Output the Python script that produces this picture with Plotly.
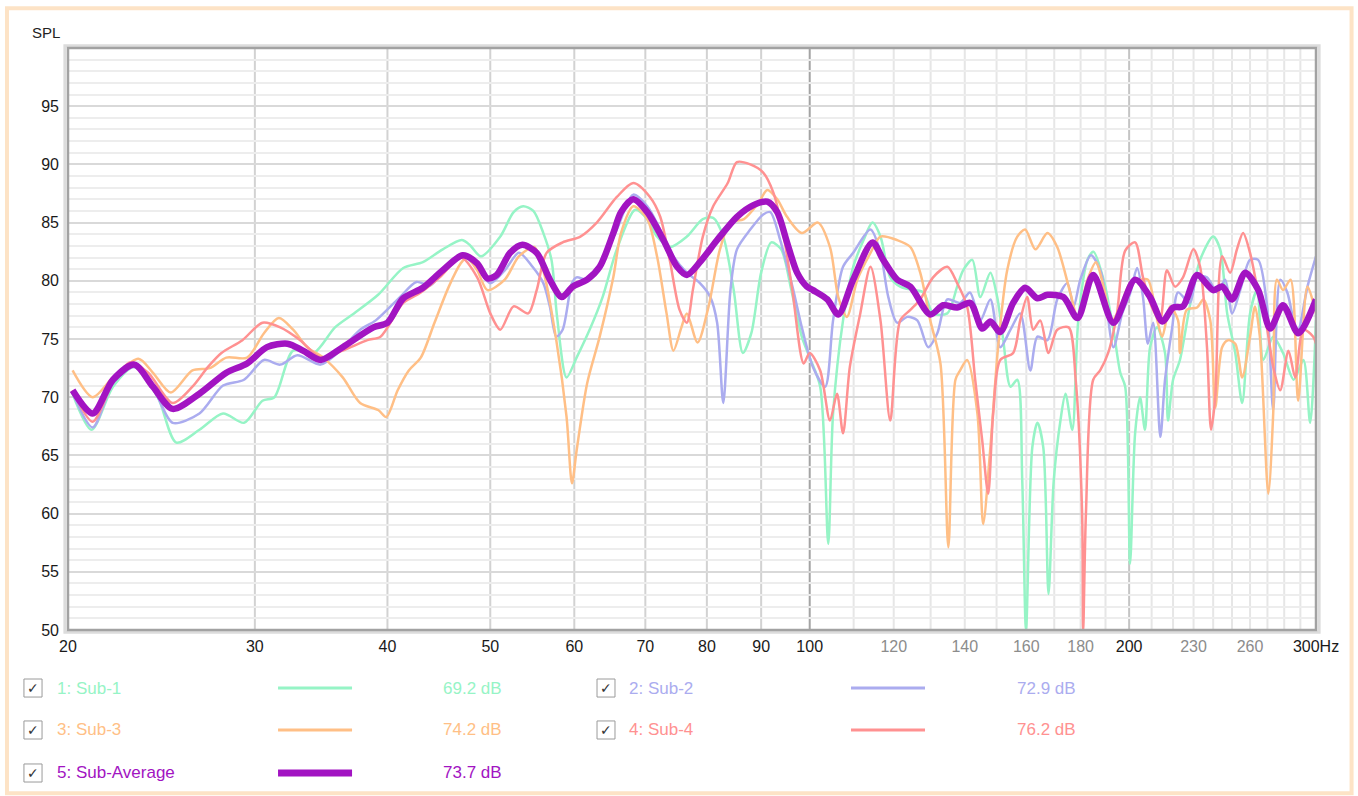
import plotly.graph_objects as go

# ---------------- data ----------------
freq_sub1 = [20.2,21.05,22.05,23.1,24.3,25.3,26.6,28.0,29.3,30.5,31.3,32.6,34.1,35.7,37.2,39.2,
             41.4,43.2,45.1,47.0,47.8,49.0,51.1,52.6,53.7,54.9,56.1,57.1,57.8,59.0,60.3,62.1,63.8,65.8,
             68.5,70.3,71.8,73.8,76.6,79.3,81.1,82.9,84.8,86.5,88.1,90.0,92.0,94.0,96.1,98.3,
             100.0,102.3,104.1,105.2,107.5,109.9,112.4,114.6,116.6,119.1,121.7,125.3,128.0,130.7,134.8,137.7,139.5,142.3,144.8,148.0,150.2,152.2,154.6,156.9,158.6,159.9,162.1,163.9,166.0,167.9,169.8,172.3,
             174.2,176.8,179.1,182.7,185.1,189.2,193.3,196.2,198.3,200.4,202.6,204.8,207.0,209.3,212.5,216.2,217.6,220.0,223.3,228.1,233.3,240.0,243.7,247.4,251.8,255.6,260.0,264.0,267.6,273.4,279.3,285.8,291.9,296.2,300.0]
spl_sub1 = [70.3,67.2,70.9,72.6,70.0,66.1,67.2,68.6,67.8,69.7,70.0,74.0,73.8,76.0,77.2,78.8,
            81.1,81.6,82.7,83.5,83.1,82.1,83.8,85.9,86.4,86.0,84.1,81.8,76.9,71.7,73.4,75.9,78.6,82.7,
            86.1,85.3,83.8,82.9,83.8,85.3,85.4,83.8,79.2,73.8,75.5,80.7,83.3,82.7,79.2,75.2,
            73.4,70.9,57.4,68.6,76.6,81.2,83.5,85.0,83.8,80.3,79.5,79.2,79.0,77.2,77.2,79.5,80.9,81.8,78.6,80.7,78.6,74.9,70.9,71.5,62.8,50.0,65.7,67.8,65.7,53.1,62.8,68.0,
            70.3,67.2,76.6,81.8,82.5,80.1,75.8,72.1,70.9,55.7,66.9,70.0,67.2,74.3,76.0,73.8,68.0,71.5,73.2,77.8,81.8,83.8,82.7,77.2,73.8,69.5,77.2,79.2,73.2,75.2,73.8,71.5,73.2,67.8,76.6]

freq_sub2 = [20.2,21.1,22.05,23.1,24.2,25.1,26.6,28.0,29.3,30.6,31.7,32.9,34.6,35.9,37.7,39.0,
             41.1,42.6,43.9,45.5,47.1,48.6,50.0,51.6,53.2,54.8,56.1,56.9,57.7,58.5,59.7,60.3,61.7,63.4,65.8,
             68.2,70.3,72.3,74.4,76.6,78.8,80.6,81.8,82.9,84.2,85.4,87.9,90.4,91.8,93.8,96.5,98.3,
             100.7,103.4,105.2,107.5,109.9,114.1,116.6,118.6,120.9,123.6,126.3,129.3,131.9,134.8,138.6,141.6,144.8,148.0,151.2,154.6,157.9,161.4,163.9,167.5,171.1,
             174.9,177.3,179.9,184.1,188.2,193.3,197.0,200.4,203.5,206.1,208.3,210.7,214.0,216.2,219.6,222.4,228.1,231.8,236.8,242.1,246.3,250.1,254.5,260.0,264.6,269.8,273.4,277.6,281.9,288.0,294.5,300.0]
spl_sub2 = [70.4,67.4,71.2,72.6,70.3,67.8,68.6,71.0,71.5,73.2,72.8,73.6,72.8,73.8,75.8,76.6,
            78.6,79.9,79.6,81.2,82.1,81.1,79.8,80.9,82.4,81.2,79.8,77.8,75.2,75.8,79.8,80.3,80.1,81.2,84.4,
            87.4,86.4,84.4,82.1,80.7,79.8,78.6,76.4,69.5,79.2,82.7,84.4,85.7,85.9,83.5,79.2,76.0,
            72.6,70.9,76.6,81.2,82.4,84.4,82.4,78.6,76.4,76.9,76.6,74.3,75.5,78.4,78.1,79.0,76.6,78.4,74.3,75.8,77.2,72.3,75.2,74.9,78.4,
            79.8,77.8,80.1,82.2,80.7,74.3,77.2,78.9,81.1,78.6,74.6,76.4,66.6,71.5,76.0,79.0,78.1,80.3,80.3,79.0,80.1,77.2,79.2,81.8,81.8,77.8,68.9,80.1,79.0,75.5,79.5,82.1]

freq_sub3 = [20.2,21.1,22.05,23.3,24.05,25.0,26.2,27.2,28.2,29.5,30.6,31.6,32.6,33.6,34.8,36.3,37.7,39.2,
             39.9,40.9,41.9,43.0,44.3,45.7,46.9,47.5,48.6,49.7,51.6,53.2,55.0,56.1,57.7,59.0,59.7,60.3,61.7,63.4,65.3,
             66.4,68.2,70.3,71.8,73.3,74.4,75.7,76.6,78.4,80.3,82.3,84.2,86.7,89.5,91.2,93.2,95.2,98.3,
             101.8,104.5,106.4,108.4,110.9,114.1,116.6,120.9,124.4,127.1,129.9,132.8,135.1,137.2,138.6,140.7,143.9,145.7,148.0,150.5,153.5,156.9,159.6,163.2,167.5,171.1,
             176.1,178.8,182.7,186.1,189.2,192.8,196.2,200.4,204.8,208.3,212.6,214.9,218.6,222.4,223.3,226.6,231.8,234.9,238.5,241.1,244.7,247.9,251.8,255.6,260.0,262.8,265.6,270.5,273.4,275.6,279.3,283.9,288.6,294.5,300.0]
spl_sub3 = [72.3,70.0,71.7,73.3,72.1,70.4,72.3,72.5,73.4,73.4,75.5,76.8,75.8,74.3,73.4,71.7,69.5,68.9,
            68.3,70.6,72.3,73.4,76.4,79.5,81.5,82.0,80.9,79.2,80.1,82.1,82.9,80.9,74.9,68.3,62.6,65.4,71.2,75.2,80.3,
            84.1,86.4,85.3,82.1,77.2,74.0,76.0,77.2,74.7,77.8,82.7,85.0,85.3,86.7,87.8,87.0,85.5,84.1,
            85.0,82.9,78.6,76.9,80.1,82.4,83.8,83.5,82.9,80.7,76.6,72.9,57.1,71.5,72.3,73.2,68.6,59.1,65.7,74.3,80.9,83.8,84.4,82.7,84.1,82.9,
            78.9,76.9,80.1,81.6,79.5,76.6,77.8,79.8,80.1,80.1,76.6,75.2,77.8,76.6,73.8,77.5,77.7,78.4,76.6,69.1,74.3,74.9,74.6,71.7,75.2,77.8,75.2,61.7,68.6,80.1,79.2,80.1,69.7,79.5,77.2]

freq_sub4 = [20.2,21.1,22.05,22.9,23.8,25.1,26.2,27.1,27.9,29.2,30.5,31.7,33.1,34.6,36.3,38.3,39.4,
             41.4,43.0,44.8,46.9,48.6,50.0,51.1,52.6,54.3,55.3,56.5,58.5,60.8,63.0,65.8,
             68.2,70.7,72.3,73.8,75.4,76.6,77.6,79.3,81.1,83.7,85.4,87.9,90.4,92.4,94.4,96.3,98.7,100.0,102.3,
             104.5,106.1,107.5,109.1,111.6,114.1,116.6,119.1,121.7,124.4,127.1,130.7,134.8,137.7,140.7,143.2,145.4,147.3,148.9,151.2,155.5,157.9,160.3,162.4,164.9,167.9,
             171.1,175.4,178.1,180.6,181.0,182.1,185.0,187.8,191.1,194.8,198.3,202.6,206.1,210.0,213.8,217.1,220.9,224.8,229.9,233.3,236.8,238.9,241.1,244.7,249.0,252.7,256.1,260.0,264.0,269.9,273.4,277.6,282.6,286.8,291.9,298.2,300.0]
spl_sub4 = [70.6,67.9,71.3,73.0,72.1,69.5,70.9,72.6,73.8,74.9,76.4,76.0,74.9,73.4,74.0,74.9,75.2,
            78.1,79.0,80.3,82.0,80.3,77.2,75.8,77.8,77.2,79.2,82.4,83.3,83.8,85.0,87.2,
            88.4,87.2,85.5,81.8,77.5,76.4,79.2,83.8,86.4,88.4,90.2,90.0,89.3,87.6,84.1,79.2,72.9,73.8,72.3,
            68.0,70.3,66.9,72.6,77.2,81.2,76.6,68.0,76.6,77.5,78.4,80.3,81.2,79.8,77.8,71.5,66.3,61.7,68.6,73.2,73.8,76.6,78.6,75.8,76.6,73.8,
            75.8,76.0,71.5,60.0,49.8,60.0,71.5,72.3,73.8,77.2,82.6,83.3,80.3,77.8,76.6,80.9,79.5,80.3,82.7,81.2,74.3,67.2,70.0,82.1,80.7,82.7,84.1,82.4,79.5,75.8,72.6,70.6,74.0,71.7,75.8,75.2,74.6]

freq_avg = [20.2,21.1,22.05,23.1,24.05,25.1,26.6,28.2,29.5,30.8,32.2,33.3,34.6,36.3,38.8,
            40.0,41.4,43.2,45.1,47.1,48.6,49.7,50.7,52.2,53.6,55.3,56.9,58.4,59.8,61.7,63.4,65.3,66.4,68.2,
            70.3,72.8,75.0,76.6,78.8,81.8,85.4,88.5,91.2,93.2,95.2,97.3,99.4,
            100.7,103.9,106.4,109.9,114.6,117.3,120.9,124.4,129.9,133.6,137.7,141.7,145.4,148.0,151.2,155.5,159.6,163.9,167.5,
            173.4,178.8,185.0,193.3,202.6,209.3,215.0,220.0,224.8,231.8,240.0,244.8,250.1,257.3,264.7,271.6,279.3,288.7,300.0]
spl_avg = [70.6,68.6,71.5,72.8,70.9,69.0,70.3,72.1,72.9,74.3,74.6,74.0,73.2,74.3,76.0,
           76.4,78.5,79.4,80.9,82.2,81.5,80.2,80.5,82.4,83.1,82.4,80.1,78.6,79.5,80.1,81.2,84.1,85.9,87.0,
           85.9,83.5,81.2,80.5,81.6,83.5,85.5,86.5,86.8,85.9,83.3,80.7,79.5,
           79.2,78.4,77.1,80.1,83.3,81.8,80.1,79.5,77.1,77.9,77.7,78.1,75.9,76.5,75.6,78.1,79.4,78.5,78.8,
           78.6,76.8,80.5,76.4,80.1,78.6,76.5,77.7,77.8,80.5,79.2,79.5,78.4,80.7,79.2,75.9,77.9,75.5,78.4]

series_names = ["1: Sub-1", "2: Sub-2", "3: Sub-3", "4: Sub-4", "5: Sub-Average"]
series_levels = [69.2, 72.9, 74.2, 76.2, 73.7]
series_colors = ["#96f4c6", "#abacef", "#ffbf86", "#ff9191", "#a214c2"]
series_widths = [2.5, 2.5, 2.5, 2.5, 6.5]

x_tick_vals = [20, 30, 40, 50, 60, 70, 80, 90, 100, 120, 140, 160, 180, 200, 230, 260, 300]
x_tick_dim = [120, 140, 160, 180, 230, 260]
y_tick_vals = [50, 55, 60, 65, 70, 75, 80, 85, 90, 95]
grid_main = [30, 40, 50, 60, 70, 80, 90]
grid_dark = [100]
grid_mid = [200]
grid_light = [110, 120, 130, 140, 150, 160, 170, 180, 190, 210, 220, 230, 240, 250, 260, 270, 280, 290]

FONT = "Liberation Sans, Arial, sans-serif"

freqs = [freq_sub1, freq_sub2, freq_sub3, freq_sub4, freq_avg]
spls = [spl_sub1, spl_sub2, spl_sub3, spl_sub4, spl_avg]

fig = go.Figure()
for f, s, name, col, w in zip(freqs, spls, series_names, series_colors, series_widths):
    fig.add_trace(go.Scatter(x=f, y=s, mode="lines", name=name,
                             line=dict(color=col, width=w, shape="spline", smoothing=0.8),
                             showlegend=False, hoverinfo="skip"))

def tick_label(v):
    if v == 300:
        return "300Hz"
    if v in x_tick_dim:
        return "<span style='color:#8c8c8c'>%d</span>" % v
    return str(v)

shapes = []
for group, col in [(grid_light, "#e6e6e6"), (grid_main, "#d2d2d2"), (grid_mid, "#c4c4c4"), (grid_dark, "#a4a4a4")]:
    for v in group:
        shapes.append(dict(type="line", xref="x", yref="paper", x0=v, x1=v, y0=0, y1=1,
                           line=dict(color=col, width=2), layer="below"))

# plot frame with soft shadow
shapes.append(dict(type="rect", xref="paper", yref="paper", x0=-0.0025, x1=1.0025, y0=-0.004, y1=1.004,
                   line=dict(color="#dcdcdc", width=3), layer="above"))
shapes.append(dict(type="rect", xref="paper", yref="paper", x0=0, x1=1, y0=0, y1=1,
                   line=dict(color="#a2a2a2", width=2.5), layer="above"))
# outer peach card border
shapes.append(dict(type="rect", xref="paper", yref="paper", x0=-0.0489, x1=1.0285, y0=-0.2805, y1=1.0685,
                   line=dict(color="#fde3c6", width=4), layer="below"))

annotations = [dict(text="SPL", xref="paper", yref="paper", x=-0.0176, y=1.0258,
                    xanchor="center", yanchor="middle",
                    showarrow=False, font=dict(family=FONT, size=15, color="#222"))]

# custom legend
rows_y = [-0.0997, -0.0997, -0.1718, -0.1718, -0.2457]
col_box = [(-0.0353, -0.0208), (0.4239, 0.4383)]
col_label = [-0.0104, 0.4479]
col_line = [(0.1683, 0.2276), (0.6274, 0.6867)]
col_value = [0.2989, 0.7588]
cols = [0, 1, 0, 1, 0]
half_box = 0.0155
for i in range(5):
    c = cols[i]
    y = rows_y[i]
    shapes.append(dict(type="rect", xref="paper", yref="paper", x0=col_box[c][0], x1=col_box[c][1],
                       y0=y - half_box, y1=y + half_box, line=dict(color="#9a9a9a", width=1),
                       fillcolor="white"))
    annotations.append(dict(text="✓", xref="paper", yref="paper", x=(col_box[c][0] + col_box[c][1]) / 2,
                            y=y, showarrow=False, xanchor="center", yanchor="middle",
                            font=dict(family="DejaVu Sans", size=14, color="#333")))
    annotations.append(dict(text=series_names[i], xref="paper", yref="paper", x=col_label[c], y=y,
                            showarrow=False, xanchor="left", yanchor="middle",
                            font=dict(family=FONT, size=17, color=series_colors[i])))
    shapes.append(dict(type="line", xref="paper", yref="paper", x0=col_line[c][0], x1=col_line[c][1],
                       y0=y, y1=y, line=dict(color=series_colors[i], width=3 if i < 4 else 7)))
    annotations.append(dict(text="%.1f dB" % series_levels[i], xref="paper", yref="paper",
                            x=col_value[c], y=y, showarrow=False, xanchor="left", yanchor="middle",
                            font=dict(family=FONT, size=17, color=series_colors[i])))

fig.update_layout(
    width=1358, height=796,
    margin=dict(l=68, r=42, t=48, b=166, autoexpand=False),
    paper_bgcolor="white", plot_bgcolor="white",
    font=dict(family=FONT, size=16, color="#222"),
    shapes=shapes, annotations=annotations,
    xaxis=dict(type="log", range=[1.30103, 2.47712], tickvals=x_tick_vals,
               ticktext=[tick_label(v) for v in x_tick_vals], showgrid=False, zeroline=False,
               ticks="", showline=False, ticklabelstandoff=5,
               tickfont=dict(family=FONT, size=16, color="#1a1a1a")),
    yaxis=dict(range=[50, 100], tickvals=y_tick_vals, showgrid=True, gridcolor="#d9d9d9", gridwidth=2,
               zeroline=False, ticks="", showline=False, ticklabelstandoff=8,
               minor=dict(dtick=1, showgrid=True, gridcolor="#ededed", gridwidth=2),
               tickfont=dict(family=FONT, size=16, color="#1a1a1a")),
)

fig.write_html("out.html", config={"displayModeBar": False},
               post_script="document.body.style.margin='0px';document.body.style.overflow='hidden';")
